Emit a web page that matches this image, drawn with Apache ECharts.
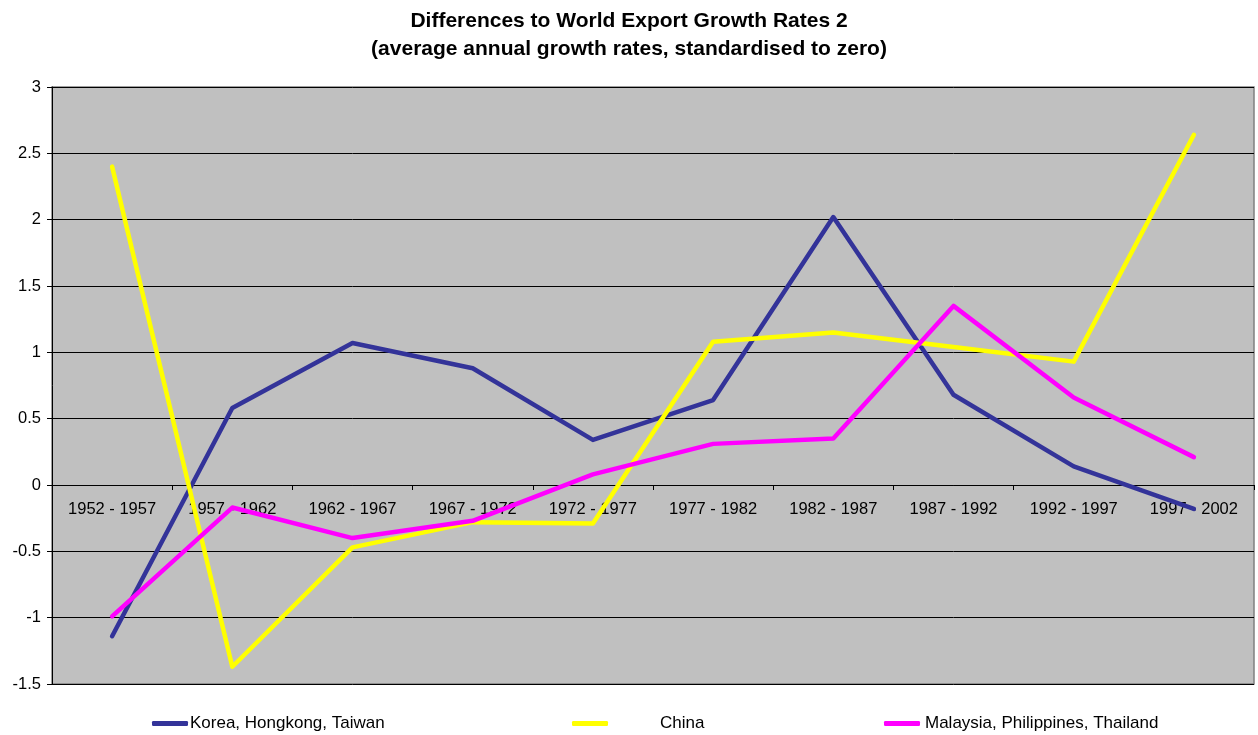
<!DOCTYPE html>
<html>
<head>
<meta charset="utf-8">
<script src="https://cdn.jsdelivr.net/npm/echarts@6/dist/echarts.min.js"></script>
<style>
  html, body { margin: 0; padding: 0; background: #fff; }
  #chart { width: 1258px; height: 735px; }
</style>
</head>
<body>
<div id="chart"></div>
<script>
// periods on the x axis
var periods = ['1952 - 1957', '1957 - 1962', '1962 - 1967', '1967 - 1972', '1972 - 1977',
  '1977 - 1982', '1982 - 1987', '1987 - 1992', '1992 - 1997', '1997 - 2002'];

var korea = [-1.14, 0.58, 1.07, 0.88, 0.34, 0.64, 2.02, 0.68, 0.14, -0.18];
var china = [2.40, -1.37, -0.47, -0.28, -0.29, 1.08, 1.15, 1.04, 0.93, 2.64];
var malaysia = [-0.99, -0.17, -0.40, -0.27, 0.08, 0.31, 0.35, 1.35, 0.66, 0.21];

var seriesNames = ['Korea, Hongkong, Taiwan', 'China', 'Malaysia, Philippines, Thailand'];

var font = 'Arial, "Liberation Sans", sans-serif';

var chart = echarts.init(document.getElementById('chart'));

function lineSeries(name, data, color) {
  return {
    name: name,
    type: 'line',
    data: data,
    symbol: 'none',
    smooth: false,
    lineStyle: { color: color, width: 4.5, cap: 'round', join: 'round' },
    itemStyle: { color: color },
    z: 3
  };
}

function legendAt(name, left, pad) {
  return {
    data: [name],
    left: left,
    top: 715,
    padding: 0,
    icon: 'roundRect',
    itemWidth: 36,
    itemHeight: 5,
    textStyle: { fontFamily: font, fontSize: 17, color: '#000', padding: [0, 0, 0, pad] }
  };
}

var option = {
  animation: false,
  title: {
    text: 'Differences to World Export Growth Rates 2\n(average annual growth rates, standardised to zero)',
    left: 'center',
    top: 2,
    textStyle: { fontFamily: font, fontSize: 21, fontWeight: 'bold', color: '#000', lineHeight: 28 }
  },
  legend: [
    legendAt(seriesNames[0], 152, -3),
    legendAt(seriesNames[1], 572, 47),
    legendAt(seriesNames[2], 884, 0)
  ],
  grid: {
    left: 52, right: 4, top: 87, bottom: 51,
    show: true,
    backgroundColor: '#C0C0C0',
    borderColor: '#808080',
    borderWidth: 1.5
  },
  xAxis: {
    type: 'category',
    data: periods,
    boundaryGap: true,
    position: 'bottom',
    offset: -199,
    axisLine: { onZero: false, lineStyle: { color: '#000', width: 1 } },
    axisTick: { show: true, length: 5, lineStyle: { color: '#000' } },
    axisLabel: { fontFamily: font, fontSize: 16.5, color: '#000', margin: 16, interval: 0 },
    splitLine: { show: false }
  },
  yAxis: {
    type: 'value',
    min: -1.5,
    max: 3,
    interval: 0.5,
    axisLine: { show: true, lineStyle: { color: '#000', width: 1 } },
    axisTick: { show: true, length: 5, lineStyle: { color: '#000' } },
    axisLabel: { fontFamily: font, fontSize: 16.5, color: '#000', margin: 11 },
    splitLine: { show: true, lineStyle: { color: '#000', width: 1 } }
  },
  series: [
    lineSeries(seriesNames[0], korea, '#333399'),
    lineSeries(seriesNames[1], china, '#FFFF00'),
    lineSeries(seriesNames[2], malaysia, '#FF00FF')
  ]
};

chart.setOption(option);
</script>
</body>
</html>
